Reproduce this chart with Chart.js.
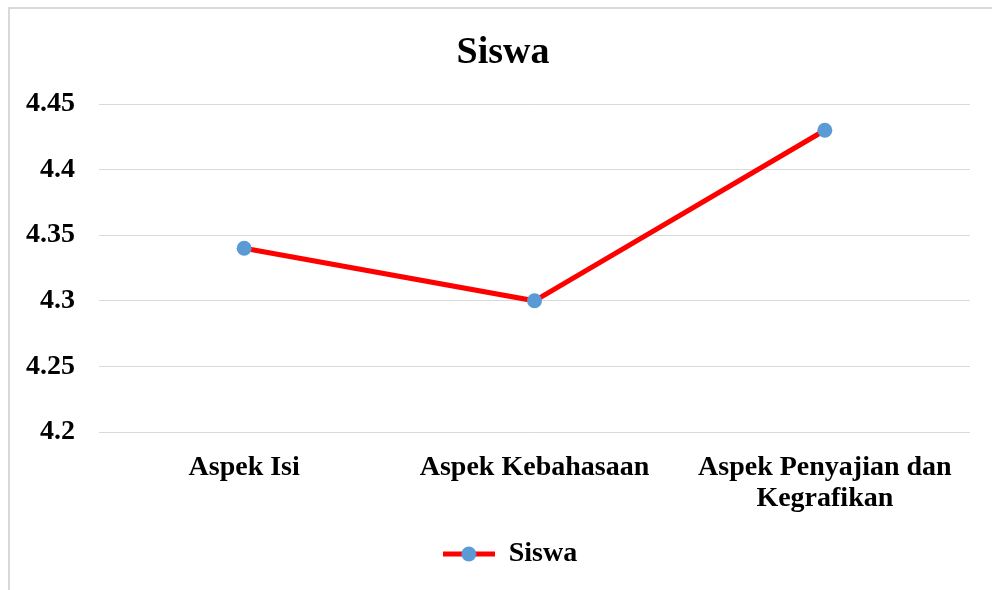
<!DOCTYPE html>
<html lang="id">
<head>
  <meta charset="UTF-8" />
  <title>Siswa</title>
  <script src="https://cdn.jsdelivr.net/npm/chart.js@4.4.1/dist/chart.umd.min.js"></script>
  <style>
    html, body { margin: 0; padding: 0; background: #fff; overflow: hidden; }
    .wadah { position: relative; width: 992px; height: 590px; }
    .bingkai {
      position: absolute; left: 8px; top: 7px; width: 1000px; height: 600px;
      border-left: 2px solid #d9d9d9; border-top: 2px solid #d9d9d9;
      pointer-events: none;
    }
    canvas { position: absolute; left: 0; top: 0; }
  </style>
</head>
<body>
  <div class="wadah">
    <div class="bingkai"></div>
    <canvas id="grafik" width="992" height="590"></canvas>
  </div>

<script>
  // data penilaian siswa per aspek
  const aspek = ['Aspek Isi', 'Aspek Kebahasaan', ['Aspek Penyajian dan', 'Kegrafikan']];
  const nilaiSiswa = [4.34, 4.30, 4.43];
  const labelSumbuY = ['4.2', '4.25', '4.3', '4.35', '4.4', '4.45'];

  const merah = '#ff0000';
  const biru = '#5b9bd5';
  const hurufSerif = '"Liberation Serif", "Times New Roman", serif';

  // ikon legenda: garis merah dengan titik biru di tengah
  const ikon = document.createElement('canvas');
  ikon.width = 52; ikon.height = 16;
  const ic = ikon.getContext('2d');
  ic.fillStyle = merah;
  ic.fillRect(0, 5.5, 52, 5);
  ic.beginPath();
  ic.arc(26, 8, 7.5, 0, Math.PI * 2);
  ic.fillStyle = biru;
  ic.fill();

  // geser judul dan legenda sedikit ke kanan
  const geserTengah = {
    id: 'geserTengah',
    afterLayout(chart) {
      if (chart.titleBlock) chart.titleBlock.left += 16;
      if (chart.legend) chart.legend.left += 30;
    }
  };

  Chart.defaults.font.family = hurufSerif;
  Chart.defaults.color = '#000';

  new Chart(document.getElementById('grafik'), {
    type: 'line',
    data: {
      labels: aspek,
      datasets: [{
        label: 'Siswa',
        data: nilaiSiswa,
        borderColor: merah,
        borderWidth: 5,
        pointRadius: 7.5,
        pointHoverRadius: 7.5,
        pointBackgroundColor: biru,
        pointBorderWidth: 0,
        tension: 0,
        fill: false
      }]
    },
    plugins: [geserTengah],
    options: {
      responsive: false,
      animation: false,
      layout: { padding: { left: 20, right: 22, top: 0, bottom: 12 } },
      plugins: {
        title: {
          display: true,
          text: 'Siswa',
          font: { size: 38, weight: 'bold' },
          padding: { top: 30, bottom: 28.4 }
        },
        legend: {
          position: 'bottom',
          labels: {
            usePointStyle: true,
            pointStyle: ikon,
            pointStyleWidth: 52,
            font: { size: 28, weight: 'bold' },
            padding: 10
          }
        },
        tooltip: { enabled: false }
      },
      scales: {
        x: {
          offset: true,
          grid: { display: false },
          border: { display: false },
          ticks: {
            font: { size: 28, weight: 'bold', lineHeight: 1.12 },
            padding: 12,
            maxRotation: 0
          },
          afterFit: (s) => { s.height = 98; }
        },
        y: {
          min: 4.2,
          max: 4.45,
          grid: { color: '#d9d9d9', lineWidth: 1, drawTicks: false },
          border: { display: false },
          ticks: {
            stepSize: 0.05,
            padding: 24,
            font: { size: 28, weight: 'bold' },
            callback: (v, i) => labelSumbuY[i]
          },
          afterFit: (s) => { s.width = 79; }
        }
      }
    }
  });
</script>
</body>
</html>
